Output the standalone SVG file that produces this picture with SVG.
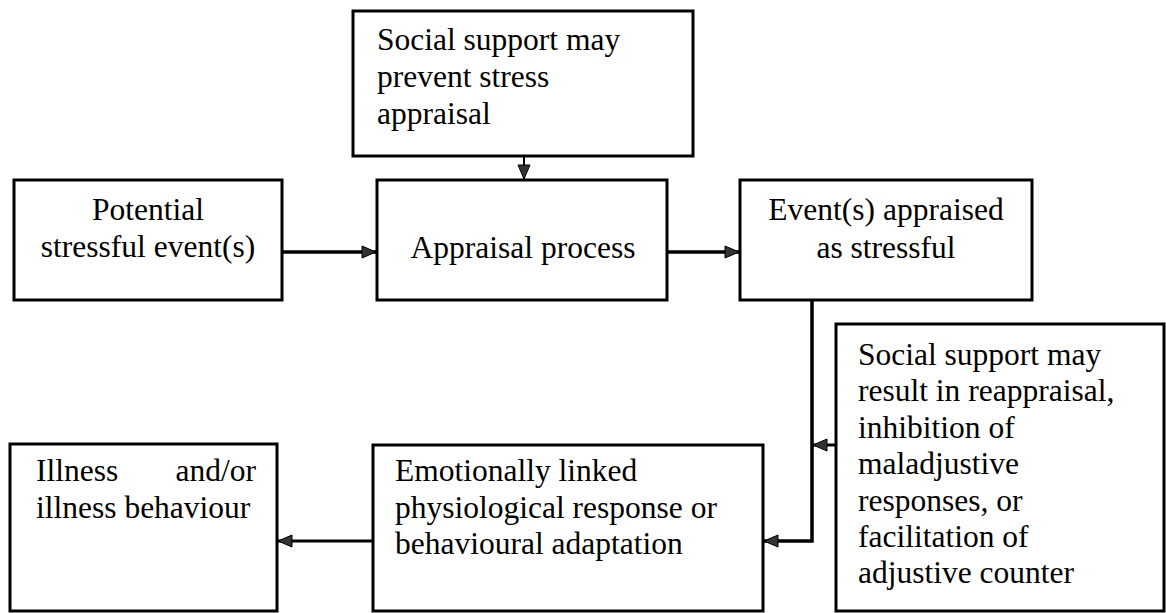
<svg xmlns="http://www.w3.org/2000/svg" width="1166" height="613" viewBox="0 0 1166 613">
<style>
.box{fill:#fff;stroke:#000;stroke-width:3}
.t{font-family:"Liberation Serif","Times New Roman",serif;font-size:31.5px;fill:#000}
.c{text-anchor:middle}
.e{text-anchor:end}
.ln{fill:none;stroke:#000;stroke-width:3.5}
</style>
<defs>
<marker id="ah" markerUnits="userSpaceOnUse" markerWidth="18" markerHeight="16" refX="15" refY="8" orient="auto" overflow="visible">
<path d="M1,2 L15,8 L1,14 Z" fill="#333" stroke="#000" stroke-width="1"/>
</marker>
</defs>
<rect width="1166" height="613" fill="#fff"/>
<g id="connectors">
<line class="ln" x1="524" y1="157" x2="524" y2="179" marker-end="url(#ah)" style="stroke-width:2"/>
<line class="ln" x1="283" y1="252" x2="376" y2="252" marker-end="url(#ah)"/>
<line class="ln" x1="668" y1="252" x2="739" y2="252" marker-end="url(#ah)"/>
<polyline class="ln" points="812,301 812,541 764,541" marker-end="url(#ah)"/>
<line class="ln" x1="835" y1="445" x2="813" y2="445" marker-end="url(#ah)" style="stroke-width:3"/>
<line class="ln" x1="372" y1="541" x2="278" y2="541" marker-end="url(#ah)" style="stroke-width:3"/>
</g>
<g id="node-top">
<rect class="box" x="353" y="11" width="340" height="145"/>
<text class="t" x="377" y="50">Social support may</text>
<text class="t" x="377" y="87">prevent stress</text>
<text class="t" x="377" y="124">appraisal</text>
</g>
<g id="node-potential">
<rect class="box" x="14" y="180" width="268" height="120"/>
<text class="t c" x="148" y="220">Potential</text>
<text class="t c" x="148" y="257">stressful event(s)</text>
</g>
<g id="node-appraisal">
<rect class="box" x="377" y="180" width="290" height="120"/>
<text class="t c" x="523" y="258">Appraisal process</text>
</g>
<g id="node-event">
<rect class="box" x="740" y="180" width="292" height="120"/>
<text class="t c" x="886" y="220">Event(s) appraised</text>
<text class="t c" x="886" y="258">as stressful</text>
</g>
<g id="node-support2">
<rect class="box" x="836" y="324" width="328" height="287"/>
<text class="t" x="858" y="365">Social support may</text>
<text class="t" x="858" y="401">result in reappraisal,</text>
<text class="t" x="858" y="438">inhibition of</text>
<text class="t" x="858" y="474">maladjustive</text>
<text class="t" x="858" y="511">responses, or</text>
<text class="t" x="858" y="547">facilitation of</text>
<text class="t" x="858" y="583">adjustive counter</text>
</g>
<g id="node-emotional">
<rect class="box" x="373" y="445" width="390" height="166"/>
<text class="t" x="395" y="481">Emotionally linked</text>
<text class="t" x="395" y="518">physiological response or</text>
<text class="t" x="395" y="554">behavioural adaptation</text>
</g>
<g id="node-illness">
<rect class="box" x="10" y="444" width="267" height="167"/>
<text class="t" x="36" y="481">Illness</text>
<text class="t e" x="256" y="481">and/or</text>
<text class="t" x="36" y="518">illness behaviour</text>
</g>
</svg>
